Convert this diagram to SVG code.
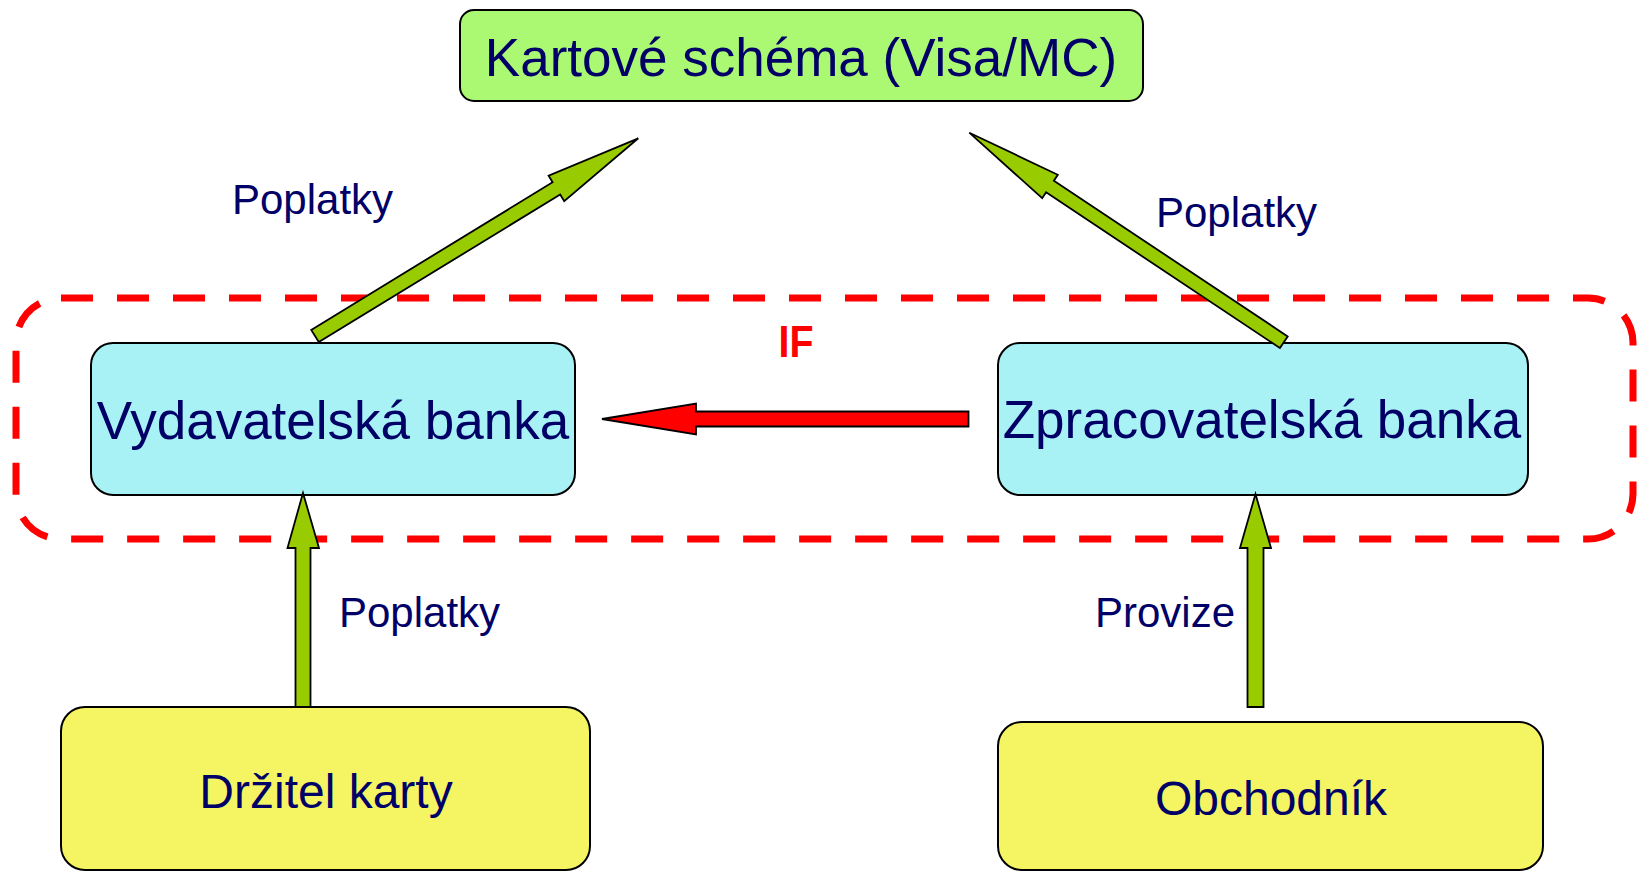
<svg xmlns="http://www.w3.org/2000/svg" width="1640" height="872" viewBox="0 0 1640 872">
<style>
.box{stroke:#000;stroke-width:2}
.lbl{font-family:"Liberation Sans",Arial,sans-serif;fill:#000066}
.big{font-size:53px;text-anchor:middle}
.mid{font-size:48px;text-anchor:middle}
.small{font-size:42px}
.garrow{fill:#99cc00;stroke:#000;stroke-width:1.8;stroke-linejoin:miter}
.rarrow{fill:#ff0000;stroke:#000;stroke-width:1.8}
</style>
<rect width="1640" height="872" fill="#ffffff"/>
<g id="if-region">
<rect x="16" y="298" width="1617" height="241" rx="45" fill="none" stroke="#ff0000" stroke-width="7" stroke-dasharray="32 24"/>
<text x="796" y="357" font-family="Liberation Sans,Arial,sans-serif" font-weight="bold" font-size="44" fill="#ff0000" text-anchor="middle" textLength="35" lengthAdjust="spacingAndGlyphs">IF</text>
</g>
<g id="kartove-schema">
<rect class="box" x="460" y="10" width="683" height="91" rx="14" fill="#abf872"/>
<text class="lbl big" x="801" y="76">Kartové schéma (Visa/MC)</text>
</g>
<g id="vydavatelska-banka">
<rect class="box" x="91" y="343" width="484" height="152" rx="22" fill="#a8f2f6"/>
<text class="lbl big" x="333" y="439">Vydavatelská banka</text>
</g>
<g id="zpracovatelska-banka">
<rect class="box" x="998" y="343" width="530" height="152" rx="22" fill="#a8f2f6"/>
<text class="lbl big" x="1262" y="438">Zpracovatelská banka</text>
</g>
<g id="drzitel-karty">
<rect class="box" x="61" y="707" width="529" height="163" rx="24" fill="#f5f564"/>
<text class="lbl mid" x="326" y="808">Držitel karty</text>
</g>
<g id="obchodnik">
<rect class="box" x="998" y="722" width="545" height="148" rx="24" fill="#f5f564"/>
<text class="lbl mid" x="1271" y="815">Obchodník</text>
</g>
<g id="connectors">
<polygon class="garrow" points="311.2,329.9 552.6,182.3 548.6,175.6 638.3,138.3 564.2,201.2 560.2,194.5 318.8,342.1"/>
<polygon class="garrow" points="1287.7,336.4 1053.9,180.7 1057.8,174.8 969.3,132.7 1042.2,198.2 1046.1,192.3 1279.9,348"/>
<polygon class="rarrow" points="602,419 696,403.5 696,411.5 968.5,411.5 968.5,426.5 696,426.5 696,434.5"/>
<polygon class="garrow" points="303,493 319,548 310.5,548 310.5,707 295.5,707 295.5,548 287.5,548"/>
<polygon class="garrow" points="1255.5,494 1271,548 1263.5,548 1263.5,707 1247.5,707 1247.5,548 1240,548"/>
<text class="lbl small" x="232" y="214">Poplatky</text>
<text class="lbl small" x="1156" y="227">Poplatky</text>
<text class="lbl small" x="339" y="627">Poplatky</text>
<text class="lbl small" x="1095" y="627">Provize</text>
</g>
</svg>
